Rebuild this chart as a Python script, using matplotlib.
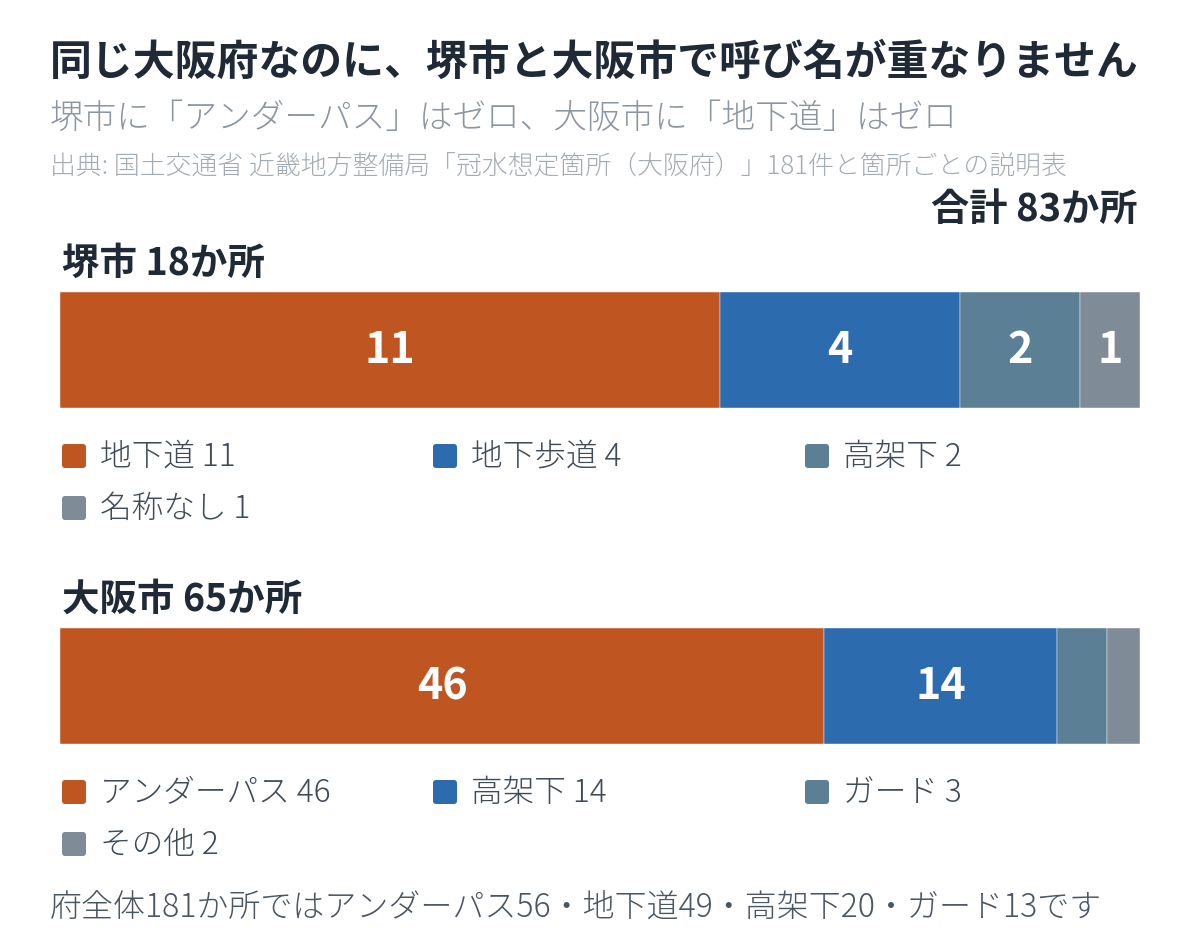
import matplotlib
matplotlib.use("Agg")
import matplotlib.pyplot as plt
from matplotlib.patches import FancyBboxPatch
import numpy as np

plt.rcParams['font.family'] = ['Noto Sans CJK JP', 'DejaVu Sans']

# data
sakai_cats = ["地下道", "地下歩道", "高架下", "名称なし"]
sakai_vals = [11, 4, 2, 1]
osaka_cats = ["アンダーパス", "高架下", "ガード", "その他"]
osaka_vals = [46, 14, 3, 2]
seg_colors = ["#BF5622", "#2C6BAE", "#5B7F94", "#7F8B97"]

W, H = 1200, 952
DARK = "#1F2A36"
GREY = "#8C96A0"
LEG = "#3F4B57"

fig = plt.figure(figsize=(W / 100, H / 100), dpi=100)
fig.patch.set_facecolor("white")


def fx(x):
    return x / W


def fy(y):
    return 1 - y / H


# header texts
fig.text(fx(50), fy(63), "同じ大阪府なのに、堺市と大阪市で呼び名が重なりません",
         fontsize=30.2, fontweight="bold", color=DARK, va="center", ha="left")
fig.text(fx(50), fy(118), "堺市に「アンダーパス」はゼロ、大阪市に「地下道」はゼロ",
         fontsize=24.2, fontweight=300, color=GREY, va="center", ha="left")
fig.text(fx(50), fy(166), "出典: 国土交通省 近畿地方整備局「冠水想定箇所（大阪府）」181件と箇所ごとの説明表",
         fontsize=18.6, fontweight=300, color="#A3ABB3", va="center", ha="left")
total = sum(sakai_vals) + sum(osaka_vals)
fig.text(fx(1138), fy(209), f"合計 {total}か所",
         fontsize=27.5, fontweight="bold", color=DARK, va="center", ha="right")


def draw_group(name, cats, vals, y_head, y_bar, y_leg):
    fig.text(fx(62), fy(y_head), f"{name} {sum(vals)}か所",
             fontsize=27, fontweight="bold", color=DARK, va="center", ha="left")
    ax = fig.add_axes([fx(60), fy(y_bar + 116), 1080 / W, 116 / H])
    tot = sum(vals)
    left = np.concatenate([[0], np.cumsum(vals)[:-1]])
    ax.barh(0, vals, left=left, height=1.0, color=seg_colors,
            edgecolor="white", linewidth=0.3)
    for l, v in zip(left, vals):
        if v / tot * 1080 >= 55:
            ax.text(l + v / 2, 0.0, str(v), ha="center", va="center",
                    fontsize=31, fontweight="bold", color="white")
    ax.set_xlim(0, tot)
    ax.set_ylim(-0.5, 0.5)
    ax.axis("off")

    col_x = [62, 433, 805]
    for i, (c, v) in enumerate(zip(cats, vals)):
        x = col_x[i % 3]
        y = y_leg + (i // 3) * 52
        sq = FancyBboxPatch(((x) / 100, (H - y - 12) / 100), 0.24, 0.24,
                            boxstyle="round,pad=0,rounding_size=0.03",
                            transform=fig.dpi_scale_trans,
                            facecolor=seg_colors[i], edgecolor="none")
        fig.patches.append(sq)
        fig.text(fx(x + 38), fy(y + 1), f"{c} {v}", fontsize=22.8,
                 fontweight=300, color=LEG, va="center", ha="left")


draw_group("堺市", sakai_cats, sakai_vals, 263, 292, 456)
draw_group("大阪市", osaka_cats, osaka_vals, 599, 628, 792)

fig.text(fx(50), fy(907), "府全体181か所ではアンダーパス56・地下道49・高架下20・ガード13です",
         fontsize=23, fontweight=300, color="#4A5662", va="center", ha="left")

fig.savefig("out.png", dpi=100)
